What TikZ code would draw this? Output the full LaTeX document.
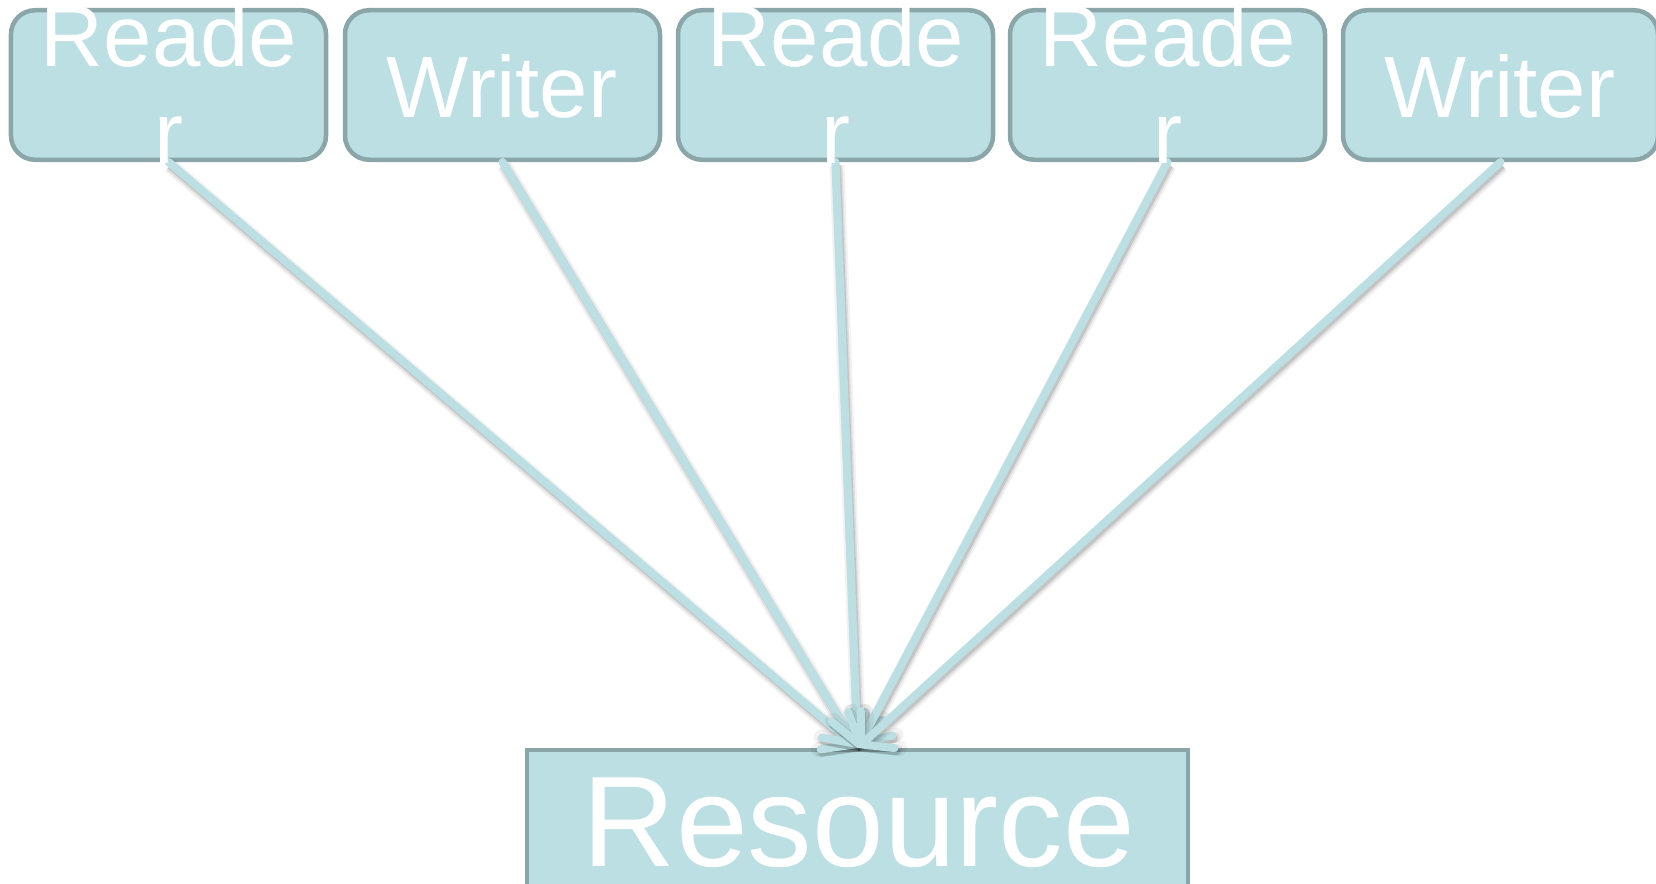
\documentclass[tikz,border=0pt]{standalone}
\usepackage{fontspec}
\setmainfont{Liberation Sans}
\usetikzlibrary{arrows.meta}
\definecolor{boxfill}{RGB}{187,223,226}
\definecolor{boxline}{RGB}{139,166,168}
\begin{document}
\begin{tikzpicture}[x=1bp,y=-1bp,
  actor/.style={draw=boxline, fill=boxfill, line width=4.5bp, rounded corners=24bp,
    minimum width=315bp, minimum height=149.5bp, inner sep=0pt},
  resbox/.style={draw=boxline, fill=boxfill, line width=4bp,
    minimum width=661bp, minimum height=150bp, inner sep=0pt},
  lbl/.style={text=white, inner sep=0pt, font=\fontsize{87bp}{97bp}\selectfont, align=center},
  biglbl/.style={lbl, font=\fontsize{129bp}{130bp}\selectfont},
  link/.style={draw=boxfill, line width=8bp, line cap=round,
    -{Straight Barb[length=22bp,width=50bp,line cap=round]},
    preaction={draw=black, opacity=0.05, line width=15bp,
      transform canvas={shift={(1.5bp,-3.5bp)}}},
    preaction={draw=black, opacity=0.08, line width=11bp,
      transform canvas={shift={(1.5bp,-3.5bp)}}},
    preaction={draw=black, opacity=0.12, line width=8bp,
      transform canvas={shift={(1.5bp,-3bp)}}}}
]
\useasboundingbox (0,0) rectangle (1656,883);
\clip (0,0) rectangle (1656,883);

\node[actor] (r1) at (168.5,85) {};
\node[actor] (w2) at (502.5,85) {};
\node[actor] (r3) at (835.5,85) {};
\node[actor] (r4) at (1167.5,85) {};
\node[actor] (w5) at (1500.5,85) {};
\node[resbox] (res) at (857.5,825) {};

\draw[link] (r1.south) -- (res.north);
\draw[link] (w2.south) -- (res.north);
\draw[link] (r3.south) -- (res.north);
\draw[link] (r4.south) -- (res.north);
\draw[link] (w5.south) -- (res.north);

\node[lbl, anchor=base] (r1t) at (169,163) {Reade\\r};
\node[lbl, anchor=base] (w2t) at (502,117) {Writer};
\node[lbl, anchor=base] (r3t) at (836,163) {Reade\\r};
\node[lbl, anchor=base] (r4t) at (1168,163) {Reade\\r};
\node[lbl, anchor=base] (w5t) at (1500,117) {Writer};
\node[biglbl, anchor=base] (rest) at (859,866) {Resource};
\end{tikzpicture}
\end{document}
